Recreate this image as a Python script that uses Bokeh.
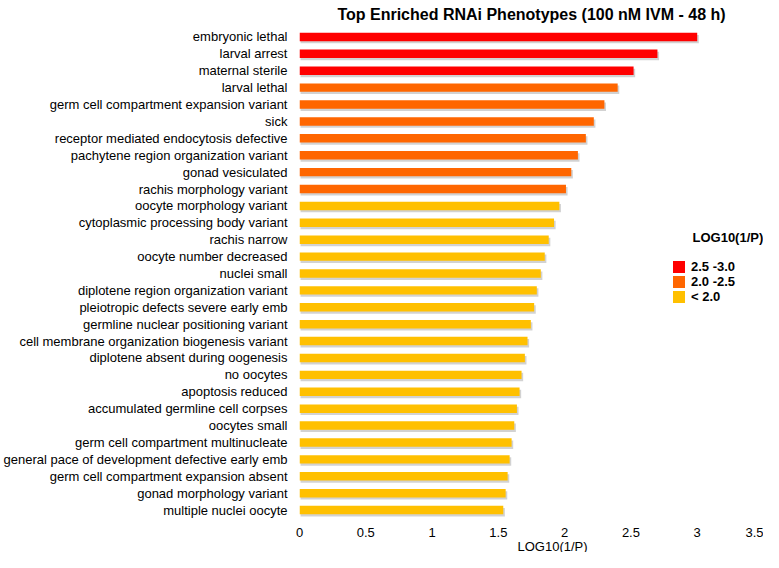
from bokeh.plotting import figure
from bokeh.models import (FactorRange, Range1d, FixedTicker, Label, ColumnDataSource,
                          Legend, LegendItem, Title)
from bokeh.transform import factor_cmap, dodge
from bokeh.embed import file_html
from bokeh.resources import INLINE

phenotypes = [
    "embryonic lethal",
    "larval arrest",
    "maternal sterile",
    "larval lethal",
    "germ cell compartment expansion variant",
    "sick",
    "receptor mediated endocytosis defective",
    "pachytene region organization variant",
    "gonad vesiculated",
    "rachis morphology variant",
    "oocyte morphology variant",
    "cytoplasmic processing body variant",
    "rachis narrow",
    "oocyte number decreased",
    "nuclei small",
    "diplotene region organization variant",
    "pleiotropic defects severe early emb",
    "germline nuclear positioning variant",
    "cell membrane organization biogenesis variant",
    "diplotene absent during oogenesis",
    "no oocytes",
    "apoptosis reduced",
    "accumulated germline cell corpses",
    "oocytes small",
    "germ cell compartment multinucleate",
    "general pace of development defective early emb",
    "germ cell compartment expansion absent",
    "gonad morphology variant",
    "multiple nuclei oocyte",
]
log10_inv_p = [
    3.00, 2.70, 2.52, 2.40, 2.30, 2.22, 2.16, 2.10, 2.05, 2.01,
    1.96, 1.92, 1.88, 1.85, 1.82, 1.79, 1.77, 1.745, 1.72, 1.70,
    1.675, 1.66, 1.64, 1.62, 1.60, 1.585, 1.57, 1.555, 1.537,
]
bin_labels = ["2.5 -3.0", "2.0 -2.5", "< 2.0"]
bin_lower = [2.5, 2.0, float("-inf")]
bin_colors = ["#FF0000", "#FF6600", "#FFC000"]
x_ticks = [0, 0.5, 1, 1.5, 2, 2.5, 3, 3.5]
x_tick_labels = ["0", "0.5", "1", "1.5", "2", "2.5", "3", "3.5"]
title_text = "Top Enriched RNAi Phenotypes (100 nM IVM - 48 h)"
x_title = "LOG10(1/P)"
legend_title = "LOG10(1/P)"


def bin_of(v):
    for lab, lo in zip(bin_labels, bin_lower):
        if v >= lo:
            return lab
    return bin_labels[-1]


groups = [bin_of(v) for v in log10_inv_p]
source = ColumnDataSource(dict(name=phenotypes, value=log10_inv_p, group=groups))

FONT = "Liberation Sans"

p = figure(
    width=763, height=552,
    y_range=FactorRange(factors=phenotypes[::-1]),
    x_range=Range1d(0, 3.5),
    output_backend="svg", toolbar_location=None,
    min_border_left=296, min_border_right=0, min_border_top=28, min_border_bottom=33,
)

p.title.text = title_text
p.title.align = "center"
p.title.vertical_align = "top"
p.title.standoff = 8
p.title.text_font = FONT
p.title.text_font_size = "16px"
p.title.text_font_style = "bold"
p.title.text_color = "#000000"

# soft shadow behind bars
p.hbar(y=dodge("name", -0.13, range=p.y_range), left=0.008, right=dodge("value", 0.012),
       height=0.5, fill_color="#7f7f7f", fill_alpha=0.35, line_color=None, source=source)

bars = p.hbar(y="name", left=0, right="value", height=0.5,
              fill_color=factor_cmap("group", bin_colors, bin_labels), line_color=None,
              source=source)

p.xaxis.ticker = FixedTicker(ticks=x_ticks)
p.xaxis.major_label_overrides = {t: l for t, l in zip(x_ticks, x_tick_labels)}
p.xaxis.major_label_standoff = 9

for ax in (p.xaxis, p.yaxis):
    ax.axis_line_color = None
    ax.major_tick_line_color = None
    ax.minor_tick_line_color = None
    ax.major_tick_out = 0
    ax.major_tick_in = 0
    ax.major_label_text_font = FONT
    ax.major_label_text_font_size = "13px"
    ax.major_label_text_color = "#000000"

p.yaxis.major_label_standoff = 12

p.add_layout(Title(text=x_title, align="left", offset=218, standoff=-4, vertical_align="middle",
                   text_font=FONT, text_font_size="13px", text_font_style="normal",
                   text_color="#000000"), "below")

p.xgrid.grid_line_color = None
p.ygrid.grid_line_color = None
p.outline_line_color = None

p.add_layout(Label(x=393, y=281.5, x_units="screen", y_units="screen", text=legend_title,
                   text_font=FONT, text_font_size="13px", text_font_style="bold",
                   text_baseline="middle", text_color="#000000"))

items = [LegendItem(label=lab, renderers=[bars], index=groups.index(lab)) for lab in bin_labels]
lg = Legend(items=items, location=(372, 214))
lg.padding = 0
lg.margin = 0
lg.spacing = 0
lg.glyph_width = 15
lg.glyph_height = 15
lg.label_height = 12
lg.label_standoff = 5
lg.label_text_font = FONT
lg.label_text_font_size = "13px"
lg.label_text_font_style = "bold"
lg.label_text_color = "#000000"
lg.border_line_color = None
lg.background_fill_alpha = 0
p.add_layout(lg)

open("out.html", "w").write(file_html(p, INLINE))
